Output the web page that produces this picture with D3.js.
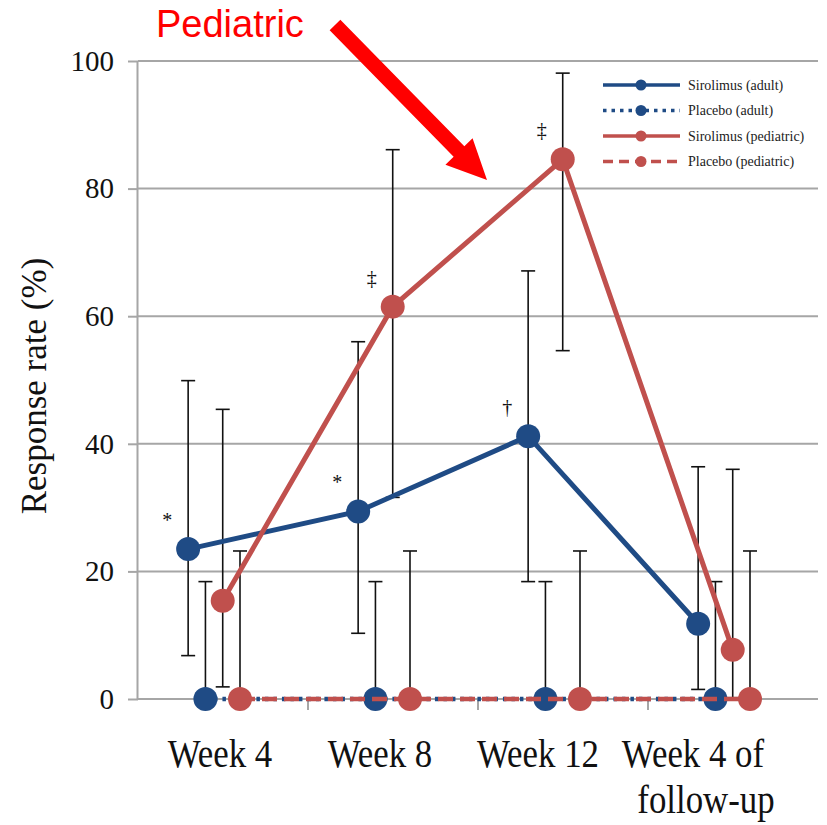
<!DOCTYPE html>
<html>
<head>
<meta charset="utf-8">
<script src="https://cdn.jsdelivr.net/npm/d3@7"></script>
<style>
  html, body { margin: 0; padding: 0; background: #fff; }
  svg { display: block; }
</style>
</head>
<body>
<svg id="chart" width="827" height="825"></svg>
<script>
// ---- data ----
const categories = ["Week 4", "Week 8", "Week 12", "Week 4 of follow-up"];
const tickLabels = [["Week 4"], ["Week 8"], ["Week 12"], ["Week 4 of", "follow-up"]];
const yTicks = [0, 20, 40, 60, 80, 100];

const seriesNames = ["Sirolimus (adult)", "Placebo (adult)", "Sirolimus (pediatric)", "Placebo (pediatric)"];

const sirolimusAdult     = [23.5, 29.4, 41.2, 11.8];
const sirolimusAdultLow  = [6.8, 10.3, 18.4, 1.5];
const sirolimusAdultHigh = [49.9, 56.0, 67.1, 36.4];

const placeboAdult     = [0, 0, 0, 0];
const placeboAdultLow  = [0, 0, 0, 0];
const placeboAdultHigh = [18.4, 18.4, 18.4, 18.4];

const sirolimusPed     = [15.4, 61.5, 84.6, 7.7];
const sirolimusPedLow  = [1.9, 31.6, 54.6, 0.2];
const sirolimusPedHigh = [45.4, 86.1, 98.1, 36.0];

const placeboPed     = [0, 0, 0, 0];
const placeboPedLow  = [0, 0, 0, 0];
const placeboPedHigh = [23.2, 23.2, 23.2, 23.2];

// significance symbols above the active-treatment points
const sirolimusAdultMarks = ["*", "*", "†", ""];
const sirolimusPedMarks   = ["", "‡", "‡", ""];

// ---- styling ----
const BLUE = "#1f4b85";
const RED = "#c0504d";
const GRID = "#a6a6a6";
const SERIF = "'Liberation Serif', 'Times New Roman', serif";

const series = [
  { name: seriesNames[0], values: sirolimusAdult, low: sirolimusAdultLow, high: sirolimusAdultHigh, color: BLUE, dash: null, marks: sirolimusAdultMarks, legendDash: null },
  { name: seriesNames[1], values: placeboAdult, low: placeboAdultLow, high: placeboAdultHigh, color: BLUE, dash: "3.5,5", marks: null, legendDash: "3.5,5" },
  { name: seriesNames[2], values: sirolimusPed, low: sirolimusPedLow, high: sirolimusPedHigh, color: RED, dash: null, marks: sirolimusPedMarks, legendDash: null },
  { name: seriesNames[3], values: placeboPed, low: placeboPedLow, high: placeboPedHigh, color: RED, dash: "15,7", marks: null, legendDash: "10,6" }
];

const svg = d3.select("#chart");
const plotLeft = 138, plotRight = 818, plotTop = 61, plotBottom = 699;

const x = d3.scaleBand().domain(categories).range([plotLeft, plotRight]).padding(0);
const bw = x.bandwidth();
const xs = d3.scalePoint().domain(seriesNames).range([bw * 0.295, bw * 0.6]);
const y = d3.scaleLinear().domain([0, 100]).range([plotBottom, plotTop]);

// ---- gridlines ----
svg.append("g").selectAll("line").data(yTicks).join("line")
  .attr("x1", plotLeft).attr("x2", plotRight)
  .attr("y1", d => y(d)).attr("y2", d => y(d))
  .attr("stroke", GRID).attr("stroke-width", 2);

// ---- y axis ----
const yAxis = svg.append("g").attr("transform", `translate(${plotLeft},0)`)
  .call(d3.axisLeft(y).tickValues(yTicks).tickSize(10).tickPadding(14).tickFormat(d3.format("d")));
yAxis.select(".domain").attr("stroke", GRID).attr("stroke-width", 2).attr("d", `M-0.5,${plotBottom}V${plotTop}`);
yAxis.selectAll(".tick line").attr("stroke", GRID).attr("stroke-width", 2);
yAxis.selectAll(".tick text")
  .attr("font-family", SERIF).attr("font-size", 29).attr("fill", "#111");

svg.append("text")
  .attr("transform", `translate(46,386) rotate(-90)`)
  .attr("text-anchor", "middle")
  .attr("font-family", SERIF).attr("font-size", 35).attr("fill", "#111")
  .text("Response rate (%)");

// ---- x axis ticks at category boundaries ----
const boundaries = categories.slice(1).map(c => x(c));
svg.append("g").selectAll("line").data(boundaries).join("line")
  .attr("x1", d => d).attr("x2", d => d)
  .attr("y1", plotBottom).attr("y2", plotBottom + 11)
  .attr("stroke", GRID).attr("stroke-width", 2);

// category labels (shifted slightly left to fit the wrapped last label)
const labelShift = [-3, -13, -25, -40];
const xl = svg.append("g");
tickLabels.forEach((lines, i) => {
  const cx = x(categories[i]) + bw / 2 + labelShift[i];
  lines.forEach((ln, j) => {
    xl.append("text")
      .attr("transform", `translate(${cx + (j ? 13 : 0)},${767 + j * 46}) scale(0.85,1)`)
      .attr("text-anchor", "middle")
      .attr("font-family", SERIF).attr("font-size", 41).attr("fill", "#111")
      .text(ln);
  });
});

// ---- error bars ----
const eb = svg.append("g");
series.forEach(s => {
  categories.forEach((c, i) => {
    const px = x(c) + xs(s.name);
    const g = eb.append("g").attr("stroke", "#111").attr("stroke-width", 1.6);
    g.append("line").attr("x1", px).attr("x2", px).attr("y1", y(s.low[i])).attr("y2", y(s.high[i]));
    g.append("line").attr("x1", px - 7).attr("x2", px + 7).attr("y1", y(s.high[i])).attr("y2", y(s.high[i]));
    g.append("line").attr("x1", px - 7).attr("x2", px + 7).attr("y1", y(s.low[i])).attr("y2", y(s.low[i]));
  });
});

// ---- lines & markers ----
const line = d3.line().x(d => d[0]).y(d => d[1]);
series.forEach(s => {
  const pts = categories.map((c, i) => [x(c) + xs(s.name), y(s.values[i])]);
  const g = svg.append("g");
  g.append("path").attr("d", line(pts))
    .attr("fill", "none").attr("stroke", s.color).attr("stroke-width", s.dash ? 4.5 : 5)
    .attr("stroke-dasharray", s.dash);
  g.selectAll("circle").data(pts).join("circle")
    .attr("cx", d => d[0]).attr("cy", d => d[1]).attr("r", 12)
    .attr("fill", s.color);
  if (s.marks) {
    g.selectAll("text.sig").data(pts).join("text").attr("class", "sig")
      .attr("x", d => d[0] - 21).attr("y", d => d[1] - 22)
      .attr("text-anchor", "middle")
      .attr("font-family", SERIF).attr("font-size", 20).attr("fill", "#111")
      .text((d, i) => s.marks[i]);
  }
});

// ---- legend ----
const lg = svg.append("g").attr("transform", "translate(603,85)");
series.forEach((s, i) => {
  const row = lg.append("g").attr("transform", `translate(0,${i * 25.5})`);
  row.append("line").attr("x1", 0).attr("x2", 77).attr("y1", 0).attr("y2", 0)
    .attr("stroke", s.color).attr("stroke-width", 3.5).attr("stroke-dasharray", s.legendDash);
  row.append("circle").attr("cx", 38).attr("cy", 0).attr("r", 5.5).attr("fill", s.color);
  row.append("text").attr("x", 85).attr("y", 0).attr("dy", "0.35em")
    .attr("font-family", SERIF).attr("font-size", 14).attr("fill", "#222")
    .text(s.name);
});

// ---- "Pediatric" callout ----
svg.append("text").attr("x", 156).attr("y", 37)
  .attr("font-family", "'Liberation Sans', Arial, sans-serif").attr("font-size", 38)
  .attr("fill", "#ff0000").text("Pediatric");

(function arrow(x0, y0, x1, y1, shaftW, headL, headW) {
  const dx = x1 - x0, dy = y1 - y0, L = Math.hypot(dx, dy);
  const ux = dx / L, uy = dy / L, nx = -uy, ny = ux;
  const bx = x1 - ux * headL, by = y1 - uy * headL;
  const p = [
    [x0 + nx * shaftW / 2, y0 + ny * shaftW / 2],
    [bx + nx * shaftW / 2, by + ny * shaftW / 2],
    [bx + nx * headW, by + ny * headW],
    [x1, y1],
    [bx - nx * headW, by - ny * headW],
    [bx - nx * shaftW / 2, by - ny * shaftW / 2],
    [x0 - nx * shaftW / 2, y0 - ny * shaftW / 2]
  ];
  svg.append("path").attr("d", "M" + p.map(q => q.join(",")).join("L") + "Z").attr("fill", "#ff0000");
})(335, 25, 487, 180, 15, 40, 19);
</script>
</body>
</html>
